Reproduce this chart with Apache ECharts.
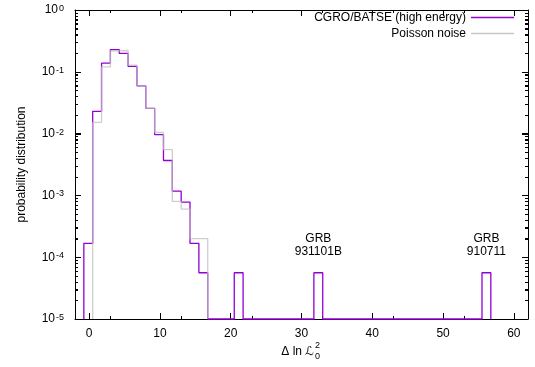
<!DOCTYPE html>
<html>
<head>
<meta charset="utf-8">
<script src="https://cdn.jsdelivr.net/npm/echarts@6/dist/echarts.min.js"></script>
<style>
  html, body { margin: 0; padding: 0; background: #fff; }
  #chart { width: 535px; height: 367px; }
</style>
</head>
<body>
<div id="chart"></div>
<script>
// Histogram bin edges in Δ ln L0² (47 edges -> 46 bins)
const binEdges = [-0.75, 0.5, 1.75, 3.0, 4.25, 5.5, 6.75, 8.0, 9.25, 10.5,
  11.75, 13.0, 14.25, 15.5, 16.75, 18.0, 19.25, 20.5, 21.75, 23.0,
  24.25, 25.5, 26.75, 28.0, 29.25, 30.5, 31.75, 33.0, 34.25, 35.5,
  36.75, 38.0, 39.25, 40.5, 41.75, 43.0, 44.25, 45.5, 46.75, 48.0,
  49.25, 50.5, 51.75, 53.0, 54.25, 55.5, 56.75];

// CGRO/BATSE (high energy): probability per bin, 0 = empty bin
const batseValues = [1.68e-4, 0.0229, 0.138, 0.229, 0.198, 0.122, 0.0594, 0.0256, 0.00964, 0.00367,
  0.00117, 0.00078, 1.68e-4, 5.6e-5, 0, 0, 0, 5.6e-5, 0, 0,
  0, 0, 0, 0, 0, 0, 5.6e-5, 0, 0, 0,
  0, 0, 0, 0, 0, 0, 0, 0, 0, 0,
  0, 0, 0, 0, 0, 5.6e-5];

// Poisson noise: probability per bin, null = bin not drawn
const poissonValues = [null, 0.0152, 0.12, 0.218, 0.221, 0.128, 0.0594, 0.0256, 0.0105, 0.00552,
  0.0008, 0.0006, 2.0e-4, 2.0e-4, null, null, null, null, null, null,
  null, null, null, null, null, null, null, null, null, null,
  null, null, null, null, null, null, null, null, null, null,
  null, null, null, null, null, null];

// Event annotations: label lines and the bin they sit above
const grbLabels = [['GRB', '931101B'], ['GRB', '910711']];
const grbBins = [26, 45];

// Axis ticks
const xTicks = [0, 10, 20, 30, 40, 50, 60];
const yDecades = [1e-5, 1e-4, 1e-3, 1e-2, 1e-1, 1];

const X_MIN = -2, X_MAX = 62;
const Y_MIN = 1e-5, Y_MAX = 1;

// Build a step outline: rise from the floor, walk each bin, drop back at the end
function stepOutline(edges, vals) {
  const pts = [];
  let open = false;
  for (let i = 0; i < vals.length; i++) {
    const v = vals[i];
    if (v === null) {
      if (open) { pts.push([edges[i], Y_MIN]); pts.push(null); open = false; }
      continue;
    }
    const y = v > 0 ? v : Y_MIN;
    if (!open) { pts.push([edges[i], Y_MIN]); open = true; }
    pts.push([edges[i], y]);
    pts.push([edges[i + 1], y]);
  }
  if (open) pts.push([edges[vals.length], Y_MIN]);
  return pts.map(p => p === null ? [null, null] : p);
}

// Minor ticks of the log axis: 2..9 × 10^k
const yMinor = [];
for (let k = 0; k < yDecades.length - 1; k++) {
  for (let m = 2; m <= 9; m++) yMinor.push(m * yDecades[k]);
}

const FONT = '"Liberation Sans", Arial, "DejaVu Sans", sans-serif';
const PURPLE = '#9400d3';
const GREY_LINE = 'rgba(190,190,190,0.75)';
const GREY_KEY = 'rgb(200,200,200)';

const chart = echarts.init(document.getElementById('chart'), null, { renderer: 'canvas' });

const grid = { left: 75, right: 7, top: 9, bottom: 48 };
const plotW = 535 - grid.left - grid.right;
const xToPx = x => grid.left + (x - X_MIN) / (X_MAX - X_MIN) * plotW;

// Log axis with inward decade ticks and 2..9 minor ticks (linear split of each decade)
function logAxis(opts) {
  return Object.assign({
    type: 'log', logBase: 10, min: Y_MIN, max: Y_MAX,
    splitLine: { show: false },
    axisLine: { show: true, onZero: false, lineStyle: { color: '#000', width: 1 } },
    axisTick: { show: true, inside: true, length: 6, lineStyle: { color: '#000' } },
    minorTick: { show: true, splitNumber: 9, length: 3, lineStyle: { color: '#000' } },
    axisLabel: { show: false }
  }, opts);
}

function linAxis(pos, showLabels) {
  return {
    type: 'value', min: X_MIN, max: X_MAX, interval: 10,
    position: pos,
    splitLine: { show: false },
    axisLine: { onZero: false, lineStyle: { color: '#000', width: 1 } },
    axisTick: { inside: true, length: 6, lineStyle: { color: '#000' }, customValues: xTicks },
    minorTick: { show: true, splitNumber: 2, length: 3, lineStyle: { color: '#000' } },
    axisLabel: showLabels
      ? { customValues: xTicks, color: '#000', fontSize: 12, margin: 9, fontFamily: FONT }
      : { show: false }
  };
}

const option = {
  animation: false,
  backgroundColor: '#fff',
  textStyle: { fontFamily: FONT },
  grid: grid,
  legend: {
    orient: 'vertical',
    right: 16,
    top: 6,
    align: 'right',
    itemWidth: 43,
    itemHeight: 1.5,
    itemGap: 3,
    icon: 'rect',
    textStyle: { fontSize: 12, color: '#000', fontFamily: FONT, lineHeight: 13 },
    data: [
      { name: 'CGRO/BATSE (high energy)', itemStyle: { color: PURPLE } },
      { name: 'Poisson noise', itemStyle: { color: GREY_KEY } }
    ]
  },
  xAxis: [linAxis('bottom', true), linAxis('top', false)],
  yAxis: [
    logAxis({
      position: 'left',
      name: 'probability distribution',
      nameLocation: 'middle',
      nameRotate: 90,
      nameGap: 47,
      nameTextStyle: { fontSize: 12, color: '#000', fontFamily: FONT },
      axisLabel: {
        show: true, customValues: yDecades, margin: 11, color: '#000',
        formatter: v => '{b|10}{e|' + Math.round(Math.log10(v)) + '}',
        rich: {
          b: { fontSize: 12, lineHeight: 12, padding: [4, 0, 4, 0], verticalAlign: 'middle', fontFamily: FONT, color: '#000' },
          e: { fontSize: 9, lineHeight: 10, padding: [0, 0, 0, 1], verticalAlign: 'top', fontFamily: FONT, color: '#000' }
        }
      }
    }),
    logAxis({ position: 'right' })
  ],
  series: [
    {
      name: 'CGRO/BATSE (high energy)',
      type: 'line',
      xAxisIndex: 0, yAxisIndex: 0,
      data: stepOutline(binEdges, batseValues),
      showSymbol: false, symbol: 'none',
      connectNulls: false,
      clip: false,
      lineStyle: { color: PURPLE, width: 1.3 },
      itemStyle: { color: PURPLE },
      z: 3
    },
    {
      name: 'Poisson noise',
      type: 'line',
      xAxisIndex: 0, yAxisIndex: 0,
      data: stepOutline(binEdges, poissonValues),
      showSymbol: false, symbol: 'none',
      connectNulls: false,
      clip: false,
      lineStyle: { color: GREY_LINE, width: 1.3 },
      itemStyle: { color: GREY_KEY },
      z: 4
    }
  ],
  graphic: []
};

// GRB annotations centred over their bins
grbLabels.forEach((lines, i) => {
  const b = grbBins[i];
  const cx = xToPx((binEdges[b] + binEdges[b + 1]) / 2);
  option.graphic.push({
    type: 'text', x: cx, y: 245, z: 10,
    style: {
      text: lines.join('\n'), align: 'center', verticalAlign: 'middle',
      font: '12px ' + FONT, fill: '#000', lineHeight: 13
    }
  });
});

// x-axis title: Δ ln ℒ with stacked sub/superscript
const titleX = 314;
option.graphic.push(
  { type: 'text', x: titleX, y: 352, z: 10,
    style: { text: 'Δ ln ℒ', align: 'right', verticalAlign: 'middle', font: '12px ' + FONT, fill: '#000' } },
  { type: 'text', x: titleX + 1, y: 346, z: 10,
    style: { text: '2', align: 'left', verticalAlign: 'middle', font: '9px ' + FONT, fill: '#000' } },
  { type: 'text', x: titleX + 1, y: 357, z: 10,
    style: { text: '0', align: 'left', verticalAlign: 'middle', font: '9px ' + FONT, fill: '#000' } }
);

chart.setOption(option);

// Inward frame ticks on both vertical edges, positioned through the grid's coordinate system
const leftX = grid.left;
const rightX = 535 - grid.right;
const tickMarks = [];
function addYTick(value, len) {
  const p = chart.convertToPixel({ gridIndex: 0 }, [X_MIN, value]);
  if (!p || !isFinite(p[1])) return;
  const py = Math.round(p[1]) + 0.5;
  const st = { stroke: '#000', lineWidth: 1 };
  tickMarks.push(
    { type: 'line', z: 50, silent: true, shape: { x1: leftX, y1: py, x2: leftX + len, y2: py }, style: st },
    { type: 'line', z: 50, silent: true, shape: { x1: rightX, y1: py, x2: rightX - len, y2: py }, style: st }
  );
}
yDecades.forEach(v => addYTick(v, 6));
yMinor.forEach(v => addYTick(v, 3));

option.graphic = option.graphic.concat(tickMarks);
chart.setOption(option, true);
</script>
</body>
</html>
